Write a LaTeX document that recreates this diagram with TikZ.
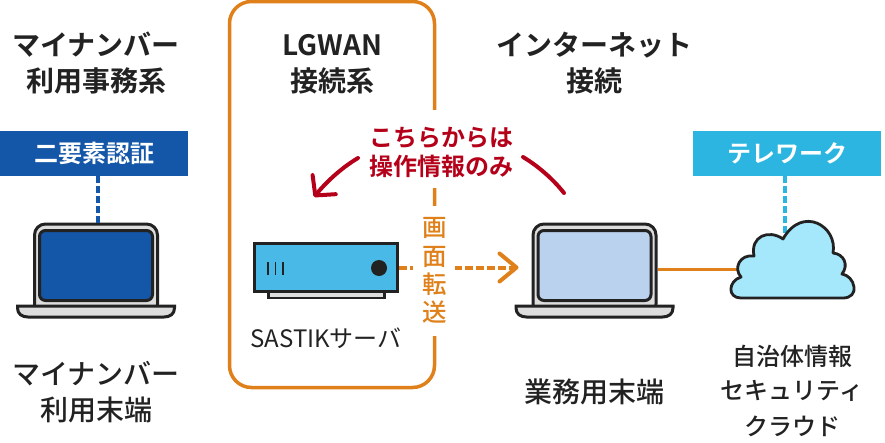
\documentclass[tikz,border=0pt]{standalone}
\usepackage{fontspec}
\newfontfamily\jpr{Noto Sans CJK JP}
\newfontfamily\jpb{Noto Sans CJK JP Bold}
\newfontfamily\jpm{Noto Sans CJK JP Medium}
\usetikzlibrary{arrows.meta,calc}
\definecolor{ink}{HTML}{222222}
\definecolor{frameor}{HTML}{E0801A}
\definecolor{navy}{HTML}{1457A8}
\definecolor{sky}{HTML}{2BB5E0}
\definecolor{alert}{HTML}{B5001A}
\definecolor{srvblue}{HTML}{49BAE8}
\definecolor{pale}{HTML}{BBD2EE}
\definecolor{cloudblue}{HTML}{A5E8FC}
\definecolor{shell}{HTML}{DDDDDD}
\tikzset{
  head/.style={font=\fontsize{28}{28}\jpb,text=ink,inner sep=0pt},
  body/.style={font=\fontsize{28}{28}\jpm,text=ink,inner sep=0pt},
  small/.style={font=\fontsize{24}{24}\jpm,text=ink,inner sep=0pt},
  badge/.style={minimum width=188pt,minimum height=45pt,inner sep=0pt,text=white,font=\fontsize{24}{24}\jpb},
  lidshape/.style={draw=ink,line width=3pt,fill=shell,rounded corners=11pt,minimum width=123pt,minimum height=91pt,inner sep=0pt},
  screenshape/.style={draw=ink,line width=3pt,rounded corners=6pt,minimum width=113pt,minimum height=70pt,inner sep=0pt},
  baseshape/.style={draw=ink,line width=3pt,fill=shell},
  alertarrow/.style={draw=alert,line width=4pt,line cap=round},
  flow/.style={draw=frameor,line width=3.5pt},
  redtext/.style={font=\fontsize{24}{24}\jpb,text=alert,inner sep=0pt},
  vtext/.style={font=\fontsize{24.5}{24.5}\jpm,text=frameor,inner sep=0pt},
}
\newcommand{\laptop}[3]{% name, x-centre, screen colour
  \node[lidshape] (#1lid) at (#2,269.5) {};
  \node[screenshape,fill=#3] (#1scr) at (#2,265.5) {};
  \draw[baseshape] (#2-78.5,306) -- (#2+78.5,306) -- (#2+78.5,308) .. controls (#2+78.5,314) and (#2+74,317) .. (#2+68,317)
    -- (#2-68,317) .. controls (#2-74,317) and (#2-78.5,314) .. (#2-78.5,308) -- cycle;
}
\begin{document}
\begin{tikzpicture}[x=1pt,y=-1pt]
\useasboundingbox (0,0) rectangle (885,442);
% frame
\node[draw=frameor,line width=3.5pt,rounded corners=22pt,minimum width=205pt,minimum height=386pt,inner sep=0pt] (lgwan) at (332,194.5) {};
% badges
\node[badge,fill=navy] (twofa) at (94,153.5) {二要素認証};
\node[badge,fill=sky] (telework) at (787,153.5) {テレワーク};
% laptops
\laptop{mynum}{96}{navy}
\laptop{work}{594.5}{pale}
\draw[navy,line width=3.8pt,dash pattern=on 7pt off 3pt] ([xshift=2pt]mynumlid.north |- twofa.south) -- ([xshift=2pt]mynumlid.north);
% server
\node[draw=ink,line width=2.4pt,fill=shell,minimum width=116pt,minimum height=8pt,inner sep=0pt] (srvfoot) at (326.5,294) {};
\node[draw=ink,line width=3pt,fill=srvblue,minimum width=143pt,minimum height=48pt,inner sep=0pt] (srv) at (326,267.5) {};
\draw[ink,line width=1.4pt] (268,262) -- (268,275) (275.5,262) -- (275.5,275) (283,262) -- (283,275);
\node[circle,fill=ink,minimum size=16pt,inner sep=0pt] (srvdot) at (379,268) {};
% arrows
\draw[flow,line width=4pt,dash pattern=on 8pt off 3pt,-{Straight Barb[length=17pt,width=28pt,round]},shorten >=13pt] (srv.east) -- (srv.east -| worklid.west);
\coordinate (cloudleft) at (745,270);
\draw[flow] (worklid.east) -- (worklid.east -| cloudleft);
\coordinate (cloudtop) at (785,235);
\draw[sky,line width=3.8pt,dash pattern=on 7pt off 3pt] (cloudtop |- telework.south) -- (cloudtop);
% cloud
\draw[draw=ink,line width=2.8pt,fill=cloudblue,line join=round]
 (741,298) -- (843,298)
 .. controls (851,298) and (855,293) .. (854,287) .. controls (853,280) and (848,275) .. (842,274)
 .. controls (849,265) and (844,254) .. (833,253)
 .. controls (838,226) and (802,205) .. (783,239)
 .. controls (769,229) and (750,236) .. (754,256)
 .. controls (740,254) and (733,268) .. (741,277)
 .. controls (728,281) and (727,298) .. (741,298) -- cycle;
% labels over frame
\node[fill=white,minimum width=42pt,minimum height=130pt,inner sep=0pt] (gaplabel) at (434,271) {};
\node[vtext] (v1) at (435,228) {画};
\node[vtext] (v2) at (435,256.5) {面};
\node[vtext] (v3) at (435,284.5) {転};
\node[vtext] (v4) at (435,312.5) {送};
\node[fill=white,minimum width=144pt,minimum height=78pt,inner sep=0pt] (gapred) at (441,149) {};
\node[redtext] (r1) at (441,138) {こちらからは};
\node[redtext] (r2) at (441,166) {操作情報のみ};
\coordinate (ra) at (358,158);
\coordinate (rb) at (314,197);
\draw[alertarrow,-{Straight Barb[length=14pt,width=30pt,round]}] (ra) .. controls (343,167) and (328,180) .. (rb);
\coordinate (rc) at (523,157);
\coordinate (rd) at (564,193);
\draw[alertarrow] (rc) .. controls (538,166) and (553,179) .. (rd);
% texts
\node[head] (h1) at (96,45) {マイナンバー};
\node[head] (h2) at (96,81) {利用事務系};
\node[head] (h3) at (332.5,45) {LGWAN};
\node[head] (h4) at (332,81) {接続系};
\node[head] (h5) at (594,45) {インターネット};
\node[head] (h6) at (594,81) {接続};
\node[font=\fontsize{24}{24}\jpr,text=ink,inner sep=0pt] (s1) at (326,338) {SASTIKサーバ};
\node[body] (b1) at (96,374) {マイナンバー};
\node[body] (b2) at (96,410) {利用末端};
\node[body] (b3) at (594.5,392) {業務用末端};
\node[small] (c1) at (792.5,356) {自治体情報};
\node[small] (c2) at (792,391) {セキュリティ};
\node[small] (c3) at (792,426) {クラウド};
\end{tikzpicture}
\end{document}
